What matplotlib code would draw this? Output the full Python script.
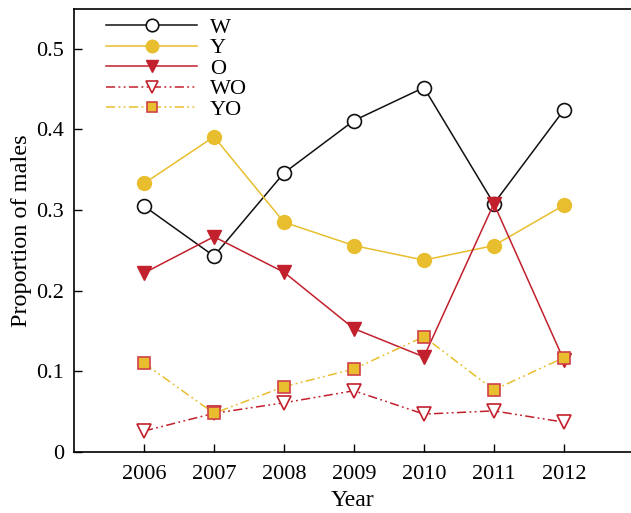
import matplotlib
matplotlib.use("Agg")
import matplotlib.pyplot as plt

years = [2006, 2007, 2008, 2009, 2010, 2011, 2012]
w_vals = [0.305, 0.243, 0.346, 0.411, 0.452, 0.308, 0.424]
y_vals = [0.333, 0.391, 0.285, 0.256, 0.238, 0.256, 0.306]
o_vals = [0.222, 0.267, 0.223, 0.153, 0.118, 0.308, 0.114]
wo_vals = [0.026, 0.048, 0.061, 0.076, 0.047, 0.051, 0.037]
yo_vals = [0.110, 0.048, 0.081, 0.103, 0.143, 0.077, 0.117]
y_ticks = [0, 0.1, 0.2, 0.3, 0.4, 0.5]
y_tick_labels = ["0", "0.1", "0.2", "0.3", "0.4", "0.5"]

plt.rcParams["font.family"] = ["Liberation Serif", "DejaVu Serif"]
plt.rcParams["font.size"] = 16

black = "#111111"
yellow = "#E8BE2E"
red = "#C2202C"
dashdotdot = (0, (6, 2.2, 1.2, 2.2, 1.2, 2.2))

fig = plt.figure(figsize=(6.31, 5.13), dpi=100)
ax = fig.add_axes([0.1173, 0.1189, 0.8827, 0.8645])

ax.plot(years, w_vals, color=black, lw=1.1, marker="o", ms=10,
        mfc="white", mec=black, mew=1.2, label="W")
ax.plot(years, y_vals, color=yellow, lw=1.1, marker="o", ms=10,
        mfc=yellow, mec=yellow, label="Y")
ax.plot(years, o_vals, color=red, lw=1.1, marker="v", ms=10,
        mfc=red, mec=red, label="O")
ax.plot(years, wo_vals, color=red, lw=1.1, ls=dashdotdot, marker="v", ms=10,
        mfc="white", mec=red, mew=1.2, label="WO")
ax.plot(years, yo_vals, color=yellow, lw=1.1, ls=dashdotdot, marker="s", ms=8.5,
        mfc=yellow, mec="#D04048", mew=1.2, label="YO")

ax.set_xlim(2005, 2012.96)
ax.set_ylim(0, 0.55)
ax.set_xticks(years)
ax.set_yticks(y_ticks)
ax.set_yticklabels(y_tick_labels)
ax.tick_params(direction="in", length=6, width=1.0)
ax.tick_params(axis="x", pad=9)
ax.tick_params(axis="y", pad=7)

for side in ("left", "bottom", "top"):
    ax.spines[side].set_linewidth(1.2)
ax.spines["right"].set_visible(False)

ax.set_xlabel("Year", fontsize=17, labelpad=5)
ax.set_ylabel("Proportion of males", fontsize=17.5, labelpad=3)

leg = ax.legend(loc="upper left", bbox_to_anchor=(0.048, 0.993), frameon=False,
                handlelength=4.1, handletextpad=0.55, labelspacing=0.0,
                borderpad=0.2, borderaxespad=0.05, markerscale=0.9)

fig.savefig("out.png", dpi=100)
